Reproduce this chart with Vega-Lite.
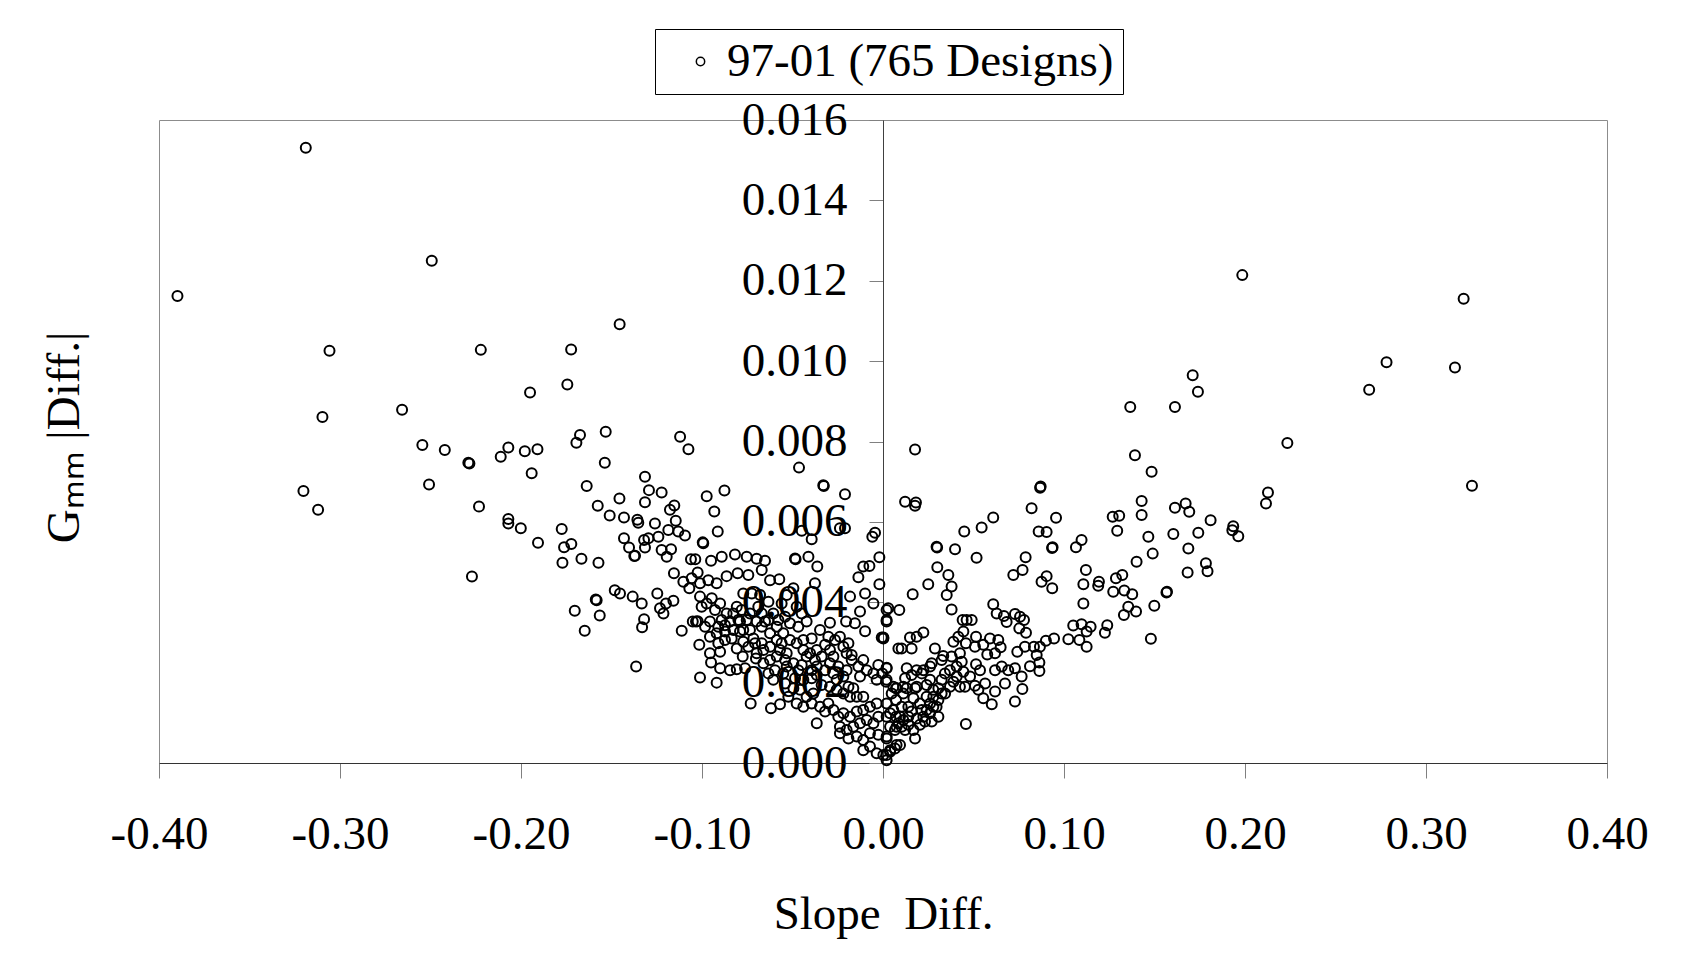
{
  "$schema": "https://vega.github.io/schema/vega-lite/v6.json",
  "width": 1448,
  "height": 643,
  "autosize": {"type": "none"},
  "padding": {"left": 159, "top": 120, "right": 75, "bottom": 197},
  "background": "white",
  "config": {"view": {"stroke": "#8c8c8c", "strokeWidth": 1}, "font": "Liberation Serif"},
  "data": {"values": [
{"x":-0.3898,"y":0.01162},{"x":-0.3189,"y":0.01531},{"x":-0.2493,"y":0.0125},{"x":-0.1455,"y":0.01092},{"x":-0.3058,"y":0.01026},{"x":-0.2222,"y":0.01028},{"x":-0.1723,"y":0.01029},{"x":-0.195,"y":0.00922},{"x":-0.1744,"y":0.00942},{"x":-0.3097,"y":0.00861},{"x":-0.2657,"y":0.00879},{"x":-0.1674,"y":0.00816},{"x":-0.1532,"y":0.00824},{"x":-0.1121,"y":0.00812},
{"x":-0.3202,"y":0.00677},{"x":-0.3121,"y":0.0063},{"x":-0.2545,"y":0.00791},{"x":-0.2421,"y":0.00779},{"x":-0.2291,"y":0.00747},{"x":-0.2285,"y":0.00745},{"x":-0.2112,"y":0.00762},{"x":-0.207,"y":0.00785},{"x":-0.1979,"y":0.00776},{"x":-0.1909,"y":0.00781},{"x":-0.1694,"y":0.00797},{"x":-0.1537,"y":0.00747},{"x":-0.1941,"y":0.00721},{"x":-0.2508,"y":0.00693},{"x":-0.2232,"y":0.00638},{"x":-0.1637,"y":0.00689},{"x":-0.207,"y":0.00607},{"x":-0.207,"y":0.00596},{"x":-0.2001,"y":0.00584},{"x":-0.1906,"y":0.00548},{"x":-0.1775,"y":0.00582},{"x":-0.1722,"y":0.00545},{"x":-0.1762,"y":0.00537},{"x":-0.1771,"y":0.00498},{"x":-0.1666,"y":0.00508},{"x":-0.1572,"y":0.00498},{"x":-0.1576,"y":0.0064},{"x":-0.151,"y":0.00616},{"x":-0.1456,"y":0.00658},{"x":-0.1431,"y":0.00611},{"x":-0.1431,"y":0.00559},{"x":-0.1403,"y":0.00536},{"x":-0.1374,"y":0.00515},{"x":-0.2271,"y":0.00464},{"x":-0.1587,"y":0.00407},{"x":-0.1582,"y":0.00405},{"x":-0.1703,"y":0.00379},{"x":-0.1565,"y":0.00367},{"x":-0.1648,"y":0.00329},{"x":-0.1482,"y":0.0043},{"x":-0.1453,"y":0.00422},
{"x":-0.1075,"y":0.00781},{"x":-0.0464,"y":0.00735},{"x":-0.033,"y":0.00691},{"x":-0.0327,"y":0.00689},{"x":-0.021,"y":0.00669},{"x":-0.1315,"y":0.00712},{"x":-0.1293,"y":0.00679},{"x":-0.1223,"y":0.00673},{"x":-0.1315,"y":0.00649},{"x":-0.0974,"y":0.00664},{"x":-0.0876,"y":0.00678},{"x":-0.0932,"y":0.00626},{"x":-0.0913,"y":0.00576},{"x":-0.1357,"y":0.00605},{"x":-0.1352,"y":0.00598},{"x":-0.126,"y":0.00596},{"x":-0.1177,"y":0.0063},{"x":-0.1153,"y":0.00641},{"x":-0.1145,"y":0.00603},{"x":-0.1186,"y":0.0058},{"x":-0.1131,"y":0.00576},{"x":-0.1094,"y":0.00566},{"x":-0.1241,"y":0.00563},{"x":-0.1296,"y":0.00559},{"x":-0.132,"y":0.00555},{"x":-0.1315,"y":0.00536},{"x":-0.137,"y":0.00516},{"x":-0.1223,"y":0.0053},{"x":-0.1195,"y":0.00513},{"x":-0.1171,"y":0.00532},{"x":-0.0996,"y":0.00549},{"x":-0.0993,"y":0.00547},{"x":-0.095,"y":0.00503},{"x":-0.0891,"y":0.00513},{"x":-0.0818,"y":0.00519},{"x":-0.0753,"y":0.00513},{"x":-0.0698,"y":0.00508},{"x":-0.0652,"y":0.00503},{"x":-0.1061,"y":0.00507},{"x":-0.1037,"y":0.00507},{"x":-0.1024,"y":0.00474},{"x":-0.1057,"y":0.0046},{"x":-0.1103,"y":0.00451},{"x":-0.107,"y":0.00435},{"x":-0.1155,"y":0.00472},{"x":-0.1011,"y":0.00447},{"x":-0.0965,"y":0.00455},{"x":-0.0919,"y":0.00447},{"x":-0.0864,"y":0.00465},{"x":-0.0803,"y":0.00472},{"x":-0.0744,"y":0.00468},{"x":-0.067,"y":0.0048},{"x":-0.0624,"y":0.00455},{"x":-0.0573,"y":0.00457},{"x":-0.0486,"y":0.00509},{"x":-0.0483,"y":0.00507},{"x":-0.0412,"y":0.00513},{"x":-0.0363,"y":0.00489},{"x":-0.0449,"y":0.00578},{"x":-0.0394,"y":0.00557},{"x":-0.0238,"y":0.00584},{"x":-0.021,"y":0.00584},{"x":-0.0059,"y":0.00563},{"x":-0.0044,"y":0.00573},{"x":-0.002,"y":0.00512},{"x":-0.0075,"y":0.0049},{"x":-0.0109,"y":0.00489},{"x":-0.0136,"y":0.00462},{"x":-0.0099,"y":0.00422},{"x":-0.002,"y":0.00445},{"x":-0.0053,"y":0.00397},{"x":-0.0127,"y":0.00377},{"x":-0.0182,"y":0.00414},{"x":-0.0204,"y":0.00352},{"x":-0.0155,"y":0.00348},{"x":-0.0099,"y":0.00328},{"x":-0.0007,"y":0.00312},{"x":0.0002,"y":0.00312},{"x":-0.0026,"y":0.00244},{"x":0.002,"y":0.00236},{"x":0.0017,"y":0.00202},{"x":0.0075,"y":0.00186},{"x":0.009,"y":0.00381},{"x":0.0029,"y":0.00385},{"x":0.002,"y":0.00352},{"x":0.0085,"y":0.00285},
{"x":-0.1383,"y":0.00414},{"x":-0.1333,"y":0.00397},{"x":-0.1247,"y":0.00422},{"x":-0.1199,"y":0.00397},{"x":-0.1158,"y":0.00404},{"x":-0.1232,"y":0.00385},{"x":-0.1213,"y":0.00372},{"x":-0.132,"y":0.00358},{"x":-0.1331,"y":0.00338},{"x":-0.1112,"y":0.00329},{"x":-0.1364,"y":0.0024},{"x":-0.1011,"y":0.00213},{"x":-0.0919,"y":0.002},{"x":-0.0731,"y":0.00148},{"x":-0.0619,"y":0.00136},{"x":-0.0569,"y":0.00146},{"x":-0.0366,"y":0.00099},
{"x":-0.1033,"y":0.00352},{"x":-0.1024,"y":0.00353},{"x":-0.1051,"y":0.00352},{"x":-0.1015,"y":0.00294},{"x":-0.0956,"y":0.00273},{"x":-0.09,"y":0.00277},{"x":-0.095,"y":0.0025},{"x":-0.09,"y":0.00236},{"x":-0.0845,"y":0.00231},{"x":-0.0808,"y":0.00233},{"x":-0.0762,"y":0.00236},{"x":-0.0775,"y":0.00265},{"x":-0.0702,"y":0.0026},{"x":-0.0744,"y":0.00289},{"x":-0.0873,"y":0.00306},{"x":-0.091,"y":0.00298},{"x":-0.0836,"y":0.0031},{"x":-0.0808,"y":0.00285},{"x":-0.0716,"y":0.0031},
{"x":-0.1011,"y":0.00414},{"x":-0.0974,"y":0.00397},{"x":-0.1002,"y":0.00389},{"x":-0.0946,"y":0.0041},{"x":-0.09,"y":0.00397},{"x":-0.0928,"y":0.00381},{"x":-0.0864,"y":0.00372},{"x":-0.0808,"y":0.00389},{"x":-0.0772,"y":0.00422},{"x":-0.0725,"y":0.00422},{"x":-0.0679,"y":0.00418},{"x":-0.0633,"y":0.00401},{"x":-0.0606,"y":0.00372},{"x":-0.056,"y":0.00397},{"x":-0.0532,"y":0.00418},{"x":-0.0495,"y":0.00435},{"x":-0.0477,"y":0.00389},{"x":-0.0449,"y":0.00372},{"x":-0.0422,"y":0.00352},{"x":-0.0376,"y":0.00447},{"x":-0.0514,"y":0.00348},{"x":-0.0468,"y":0.00339},{"x":-0.0587,"y":0.00339},{"x":-0.0624,"y":0.00323},{"x":-0.0551,"y":0.00323},{"x":-0.0514,"y":0.00306},{"x":-0.0477,"y":0.00298},{"x":-0.044,"y":0.00306},{"x":-0.0394,"y":0.0031},{"x":-0.0348,"y":0.00331},{"x":-0.0293,"y":0.00349},{"x":-0.0302,"y":0.00314},{"x":-0.0238,"y":0.00314},{"x":-0.032,"y":0.00294},{"x":-0.0219,"y":0.00289},{"x":-0.0201,"y":0.00273},{"x":-0.0173,"y":0.00269},{"x":-0.0274,"y":0.00265},{"x":-0.0339,"y":0.00265},{"x":-0.0376,"y":0.00256},{"x":-0.0422,"y":0.00265},{"x":-0.0449,"y":0.00244},{"x":-0.0495,"y":0.00248},{"x":-0.0532,"y":0.00273},{"x":-0.0569,"y":0.00281},{"x":-0.0624,"y":0.00289},{"x":-0.0661,"y":0.00281},{"x":-0.0698,"y":0.00273},
{"x":-0.0983,"y":0.00339},{"x":-0.0956,"y":0.00352},{"x":-0.091,"y":0.00339},{"x":-0.0891,"y":0.00356},{"x":-0.0845,"y":0.00352},{"x":-0.0799,"y":0.00356},{"x":-0.0772,"y":0.00331},{"x":-0.0735,"y":0.00331},{"x":-0.0698,"y":0.00352},{"x":-0.067,"y":0.00372},{"x":-0.0652,"y":0.00352},
{"x":-0.0597,"y":0.00231},{"x":-0.0551,"y":0.00223},{"x":-0.0606,"y":0.00207},{"x":-0.0541,"y":0.00198},{"x":-0.0486,"y":0.00211},{"x":-0.044,"y":0.00207},{"x":-0.0394,"y":0.00211},{"x":-0.0366,"y":0.00219},{"x":-0.032,"y":0.00231},{"x":-0.0274,"y":0.00223},{"x":-0.0247,"y":0.0024},{"x":-0.0219,"y":0.00215},{"x":-0.0191,"y":0.0019},{"x":-0.0164,"y":0.00186},{"x":-0.0127,"y":0.00215},{"x":-0.0109,"y":0.00165},{"x":-0.0145,"y":0.00165},{"x":-0.0182,"y":0.00165},{"x":-0.0219,"y":0.00173},{"x":-0.0256,"y":0.00182},{"x":-0.0293,"y":0.0019},{"x":-0.0339,"y":0.00194},{"x":-0.0385,"y":0.00173},{"x":-0.0422,"y":0.00165},{"x":-0.0458,"y":0.00182},{"x":-0.0495,"y":0.00186},{"x":-0.0523,"y":0.00165},{"x":-0.0477,"y":0.00148},{"x":-0.044,"y":0.0014},{"x":-0.0394,"y":0.00148},{"x":-0.0348,"y":0.0014},{"x":-0.0302,"y":0.00148},{"x":-0.0274,"y":0.00132},{"x":-0.032,"y":0.00128},{"x":-0.0247,"y":0.00115},{"x":-0.0219,"y":0.00124},{"x":-0.0182,"y":0.00115},{"x":-0.0145,"y":0.00128},{"x":-0.0109,"y":0.00132},{"x":-0.0072,"y":0.0014},{"x":-0.0035,"y":0.00148},{"x":-0.0026,"y":0.00115},{"x":-0.0053,"y":0.00099},{"x":-0.009,"y":0.00107},{"x":-0.0127,"y":0.00099},{"x":-0.0164,"y":0.0009},{"x":-0.0201,"y":0.00082},{"x":-0.0238,"y":0.0009},{"x":-0.0238,"y":0.00074},{"x":-0.0191,"y":0.00061},{"x":-0.0145,"y":0.00066},{"x":-0.0109,"y":0.00057},{"x":-0.0072,"y":0.00074},{"x":-0.0026,"y":0.0007},{"x":0.002,"y":0.00061},{"x":-0.0109,"y":0.00032},{"x":-0.0072,"y":0.00041},{"x":-0.0035,"y":0.00024},{"x":0.0002,"y":0.0002},{"x":0.0039,"y":0.00032},{"x":0.0075,"y":0.00045},{"x":0.002,"y":0.00007},{"x":0.0072,"y":0.00186},{"x":0.0039,"y":0.00124},{"x":0.0075,"y":0.0009},
{"x":-0.0827,"y":0.00372},{"x":-0.0781,"y":0.00381},{"x":-0.0735,"y":0.00372},{"x":-0.0689,"y":0.00389},{"x":-0.079,"y":0.00352},{"x":-0.0753,"y":0.00356},{"x":-0.067,"y":0.00339},{"x":-0.0633,"y":0.00356},{"x":-0.0578,"y":0.00356},{"x":-0.0541,"y":0.00364},{"x":-0.0873,"y":0.00343},{"x":-0.0827,"y":0.00331},{"x":-0.0919,"y":0.00323},{"x":-0.0956,"y":0.00314},{"x":-0.0873,"y":0.00327},{"x":-0.0587,"y":0.00306},{"x":-0.056,"y":0.00298},{"x":-0.044,"y":0.00281},{"x":-0.0403,"y":0.00273},{"x":-0.0366,"y":0.00281},{"x":-0.0293,"y":0.00281},{"x":-0.0265,"y":0.00306},{"x":-0.0191,"y":0.00298},{"x":-0.0173,"y":0.00256},{"x":-0.0136,"y":0.0024},{"x":-0.0109,"y":0.00256},{"x":-0.009,"y":0.00231},{"x":-0.0053,"y":0.00223},{"x":-0.0035,"y":0.00207},{"x":-0.0004,"y":0.00223},{"x":-0.0293,"y":0.00248},{"x":-0.0256,"y":0.00207},{"x":-0.0201,"y":0.00231},{"x":-0.0366,"y":0.0024},{"x":-0.0394,"y":0.00231},{"x":-0.0468,"y":0.00231},{"x":-0.0532,"y":0.0024},{"x":-0.0541,"y":0.00256},{"x":-0.0624,"y":0.00256},{"x":-0.0587,"y":0.00265},{"x":-0.0661,"y":0.00248},{"x":-0.0633,"y":0.00223},{"x":-0.067,"y":0.00298},{"x":-0.0707,"y":0.00298},{"x":-0.0772,"y":0.00302},{"x":-0.079,"y":0.00327},
{"x":0.0177,"y":0.0078},{"x":0.0122,"y":0.0065},{"x":0.0182,"y":0.00648},{"x":0.0177,"y":0.0064},{"x":0.0296,"y":0.00538},{"x":0.0299,"y":0.00536},{"x":0.0398,"y":0.00532},{"x":0.03,"y":0.00487},{"x":0.025,"y":0.00445},{"x":0.0164,"y":0.0042},{"x":0.0361,"y":0.00468},{"x":0.0379,"y":0.00439},{"x":0.0352,"y":0.00418},{"x":0.0379,"y":0.00382},{"x":0.0449,"y":0.00576},{"x":0.0545,"y":0.00586},{"x":0.0609,"y":0.00611},{"x":0.0517,"y":0.00511},{"x":0.0821,"y":0.00634},{"x":0.0871,"y":0.00688},{"x":0.0868,"y":0.00685},{"x":0.0956,"y":0.0061},{"x":0.086,"y":0.00576},{"x":0.0904,"y":0.00575},{"x":0.0937,"y":0.00537},{"x":0.0934,"y":0.00535},{"x":0.0788,"y":0.00512},{"x":0.0771,"y":0.0048},{"x":0.072,"y":0.00468},{"x":0.0904,"y":0.00465},{"x":0.0876,"y":0.00451},{"x":0.0935,"y":0.00435},{"x":0.1066,"y":0.00537},{"x":0.1097,"y":0.00555},{"x":0.1121,"y":0.0048},{"x":0.1107,"y":0.00445},{"x":0.1107,"y":0.00397},{"x":0.1193,"y":0.00451},{"x":0.1189,"y":0.00441},{"x":0.1269,"y":0.00613},{"x":0.1305,"y":0.00615},{"x":0.1294,"y":0.00578},{"x":0.1287,"y":0.0046},{"x":0.1322,"y":0.00468},{"x":0.1272,"y":0.00426},{"x":0.1333,"y":0.00429},{"x":0.1377,"y":0.0042},{"x":0.1355,"y":0.00389},{"x":0.1331,"y":0.00368},{"x":0.1398,"y":0.00377},{"x":0.1401,"y":0.00501},{"x":0.1392,"y":0.00766},{"x":0.1484,"y":0.00725},{"x":0.1429,"y":0.00652},{"x":0.1429,"y":0.00617},{"x":0.1466,"y":0.00563},{"x":0.149,"y":0.00521},{"x":0.1499,"y":0.00391},{"x":0.148,"y":0.00309},{"x":0.1569,"y":0.00426},{"x":0.1566,"y":0.00424},{"x":0.1613,"y":0.00635},{"x":0.1672,"y":0.00646},{"x":0.1692,"y":0.00625},{"x":0.1604,"y":0.0057},{"x":0.1687,"y":0.00534},{"x":0.1683,"y":0.00474},{"x":0.1742,"y":0.00573},
{"x":0.1051,"y":0.00342},{"x":0.1097,"y":0.00345},{"x":0.1147,"y":0.00339},{"x":0.1125,"y":0.00327},{"x":0.1085,"y":0.00306},{"x":0.1125,"y":0.00289},{"x":0.1024,"y":0.00308},{"x":0.0945,"y":0.0031},{"x":0.1239,"y":0.00343},{"x":0.1226,"y":0.00324},{"x":0.09,"y":0.00304},{"x":0.0867,"y":0.00289},{"x":0.0834,"y":0.00289},{"x":0.0849,"y":0.00269},{"x":0.0864,"y":0.0025},{"x":0.0864,"y":0.00229},{"x":0.0812,"y":0.00241},{"x":0.0766,"y":0.00215},{"x":0.077,"y":0.00184},{"x":0.0729,"y":0.00153},{"x":0.0609,"y":0.00395},{"x":0.0628,"y":0.00372},{"x":0.0668,"y":0.00366},{"x":0.0683,"y":0.00351},{"x":0.0729,"y":0.00371},{"x":0.0757,"y":0.00364},{"x":0.0779,"y":0.00356},{"x":0.0753,"y":0.00335},{"x":0.079,"y":0.00324},{"x":0.0742,"y":0.00277},{"x":0.0784,"y":0.00289},{"x":0.0729,"y":0.00236},{"x":0.0692,"y":0.00231},{"x":0.0656,"y":0.0024},{"x":0.0619,"y":0.00231},{"x":0.0674,"y":0.00198},{"x":0.0619,"y":0.00178},{"x":0.0601,"y":0.00146},{"x":0.0554,"y":0.00161},{"x":0.0527,"y":0.00182},{"x":0.0508,"y":0.00192},{"x":0.0564,"y":0.00198},{"x":0.0536,"y":0.00231},{"x":0.0514,"y":0.00246},{"x":0.0458,"y":0.00097},{"x":0.0591,"y":0.0031},{"x":0.0637,"y":0.00306},{"x":0.065,"y":0.00288},{"x":0.0619,"y":0.00273},{"x":0.0576,"y":0.0027},{"x":0.0554,"y":0.00294},{"x":0.0508,"y":0.00289},{"x":0.0514,"y":0.00314},{"x":0.0444,"y":0.00327},{"x":0.0416,"y":0.00314},{"x":0.0389,"y":0.00302},{"x":0.0458,"y":0.00298},{"x":0.0462,"y":0.00356},{"x":0.049,"y":0.00356},{"x":0.044,"y":0.00356},{"x":0.0425,"y":0.00273},{"x":0.0379,"y":0.00265},{"x":0.0333,"y":0.00266},{"x":0.0287,"y":0.00285},{"x":0.0324,"y":0.00256},{"x":0.0435,"y":0.00252},{"x":0.0407,"y":0.0024},{"x":0.0444,"y":0.00227},{"x":0.037,"y":0.00231},{"x":0.0407,"y":0.00215},{"x":0.0453,"y":0.0019},{"x":0.0481,"y":0.00215},{"x":0.037,"y":0.0019},{"x":0.0343,"y":0.00173},{"x":0.0306,"y":0.00186},{"x":0.0278,"y":0.00165},{"x":0.026,"y":0.00148},{"x":0.0296,"y":0.0014},{"x":0.0306,"y":0.00115},{"x":0.026,"y":0.00124},{"x":0.0232,"y":0.00103},{"x":0.0214,"y":0.00132},{"x":0.0168,"y":0.00161},{"x":0.0177,"y":0.00186},{"x":0.0223,"y":0.00231},{"x":0.026,"y":0.0024},{"x":0.0269,"y":0.00248},{"x":0.0186,"y":0.00231},{"x":0.0131,"y":0.00236},{"x":0.0122,"y":0.00211},{"x":0.0158,"y":0.00219},{"x":0.0214,"y":0.00223},{"x":0.0149,"y":0.00312},{"x":0.0186,"y":0.00314},{"x":0.0223,"y":0.00325},{"x":0.0103,"y":0.00285},{"x":0.0158,"y":0.00285},{"x":0.014,"y":0.00095},{"x":0.0177,"y":0.00061},{"x":0.0112,"y":0.00107},{"x":0.0094,"y":0.00115},{"x":0.0168,"y":0.00082},{"x":0.0204,"y":0.00095},{"x":0.0094,"y":0.00045},{"x":0.0066,"y":0.00036},{"x":0.0039,"y":0.00028},{"x":0.002,"y":0.0002},{"x":0.0103,"y":0.0009},{"x":0.0072,"y":0.00157},{"x":0.0072,"y":0.00115},{"x":0.0057,"y":0.00132},{"x":0.0085,"y":0.00099},{"x":0.0112,"y":0.00173},{"x":0.0103,"y":0.0014},{"x":0.014,"y":0.0014},{"x":0.002,"y":0.00066},{"x":0.002,"y":0.00115},{"x":0.002,"y":0.00207},{"x":0.002,"y":0.00237},{"x":0.002,"y":0.00356},{"x":0.002,"y":0.00381},{"x":0.0002,"y":0.0031},{"x":0.0057,"y":0.0019},{"x":0.0112,"y":0.0019},{"x":0.0241,"y":0.00194},{"x":0.0278,"y":0.00182},{"x":0.0324,"y":0.00207},
{"x":0.0241,"y":0.00165},{"x":0.0278,"y":0.0014},{"x":0.0306,"y":0.00157},{"x":0.0324,"y":0.00173},{"x":0.0223,"y":0.00115},{"x":0.0186,"y":0.00111},{"x":0.0158,"y":0.00128},{"x":0.0204,"y":0.00148},{"x":0.0241,"y":0.00132},{"x":0.0269,"y":0.00103},{"x":0.014,"y":0.00115},{"x":0.0122,"y":0.00082},{"x":0.0066,"y":0.00082},{"x":0.0039,"y":0.0009},{"x":0.002,"y":0.00148},{"x":0.0048,"y":0.00173},{"x":0.0131,"y":0.00186},{"x":0.0186,"y":0.0019},{"x":0.026,"y":0.00207},{"x":0.0342,"y":0.00223},{"x":0.0389,"y":0.00202},{"x":0.0425,"y":0.0019},
{"x":0.1985,"y":0.01214},{"x":0.3208,"y":0.01155},{"x":0.316,"y":0.00984},{"x":0.2782,"y":0.00997},{"x":0.2686,"y":0.00929},{"x":0.1711,"y":0.00965},{"x":0.174,"y":0.00924},{"x":0.1613,"y":0.00886},{"x":0.1366,"y":0.00886},{"x":0.3254,"y":0.0069},{"x":0.2234,"y":0.00796},{"x":0.2127,"y":0.00673},{"x":0.2116,"y":0.00646},{"x":0.181,"y":0.00604},{"x":0.1935,"y":0.00589},{"x":0.193,"y":0.00579},{"x":0.1963,"y":0.00564},{"x":0.1784,"y":0.00497},{"x":0.1793,"y":0.00477}
  ]},
  "mark": {"type": "point", "shape": "circle", "filled": false, "size": 100, "strokeWidth": 2, "opacity": 1},
  "encoding": {
    "x": {
      "field": "x", "type": "quantitative",
      "scale": {"domain": [-0.4, 0.4], "nice": false, "zero": false},
      "axis": {
        "values": [-0.4, -0.3, -0.2, -0.1, 0, 0.1, 0.2, 0.3, 0.4],
        "labelExpr": "datum.value < -0.00001 ? '-' + format(-datum.value, '.2f') : format(abs(datum.value), '.2f')",
        "grid": false, "domainColor": "#333333", "domainWidth": 1, "tickColor": "#808080", "tickSize": 15,
        "labelFont": "Liberation Serif", "labelFontSize": 47, "labelColor": "black",
        "labelPadding": 70, "labelBaseline": "alphabetic", "labelFlush": false, "labelOverlap": false,
        "title": "Slope\u00a0 Diff.", "titleFont": "Liberation Serif", "titleFontSize": 47, "titleFontWeight": "normal",
        "titleColor": "black", "titleY": 165, "titleBaseline": "alphabetic"
      }
    },
    "y": {
      "field": "y", "type": "quantitative",
      "scale": {"domain": [0, 0.016], "nice": false},
      "axis": {
        "orient": "left", "offset": -724,
        "values": [0, 0.002, 0.004, 0.006, 0.008, 0.01, 0.012, 0.014, 0.016],
        "format": ".3f", "grid": false, "domainColor": "#404040", "tickColor": "#808080", "tickSize": 14,
        "labelFont": "Liberation Serif", "labelFontSize": 47, "labelColor": "black", "labelPadding": 22,
        "labelFlush": false, "labelOverlap": false, "labelBound": false,
        "title": "Gₘₘ |Diff.|", "titleFont": "Liberation Serif", "titleFontSize": 47, "titleFontWeight": "normal",
        "titleColor": "black", "titleX": -819, "titleY": 317, "titleAngle": -90, "titleBaseline": "middle", "titleAlign": "center"
      }
    },
    "color": {
      "datum": "97-01 (765 Designs)", "type": "nominal",
      "scale": {"range": ["black"]},
      "legend": {
        "title": null, "orient": "none", "legendX": 496, "legendY": -91,
        "strokeColor": "black", "fillColor": "white", "padding": 9, "cornerRadius": 0,
        "labelFont": "Liberation Serif", "labelFontSize": 47, "labelColor": "black", "labelLimit": 0,
        "symbolType": "circle", "symbolSize": 70, "symbolStrokeWidth": 1.5, "symbolStrokeColor": "black",
        "symbolFillColor": "white", "symbolOffset": 13, "labelOffset": 3
      }
    }
  }
}
